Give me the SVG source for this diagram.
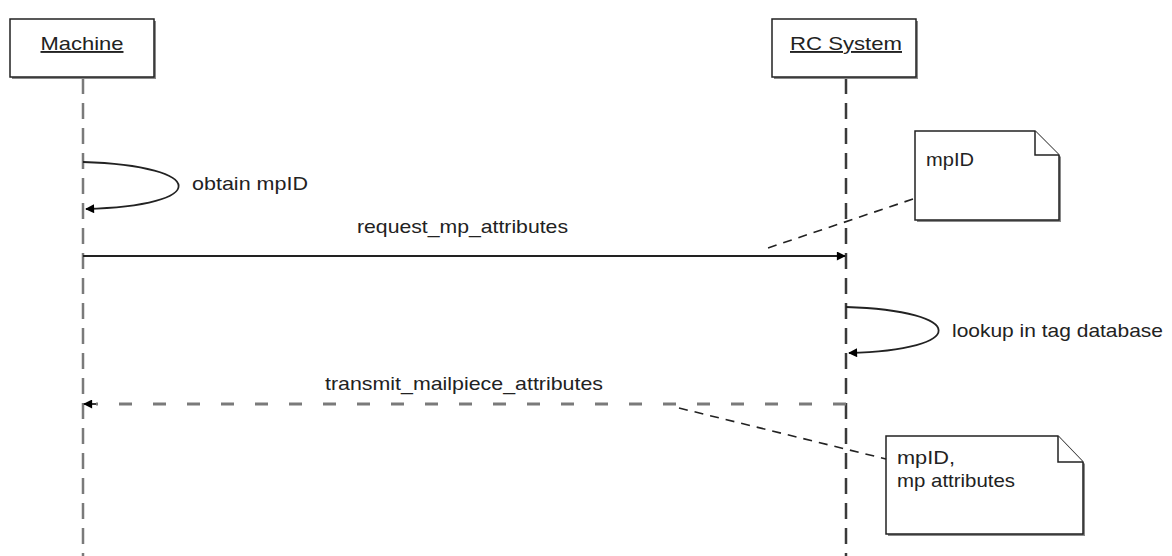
<svg xmlns="http://www.w3.org/2000/svg" width="1172" height="556" viewBox="0 0 1172 556">
  <style>
    .lbl { font-family: "Liberation Sans", Arial, sans-serif; font-size: 19px; fill: #222; }
    .box { fill: #fff; stroke: #222; stroke-width: 1.5; }
    .shadow { fill: #8a8a8a; }
    .life { fill: none; stroke-width: 2.5; stroke-dasharray: 16 9; }
    .msg { fill: none; stroke: #222; stroke-width: 1.8; }
    .ret { fill: none; stroke: #7a7a7a; stroke-width: 3; stroke-dasharray: 13 21; }
    .anchor { fill: none; stroke: #222; stroke-width: 1.6; stroke-dasharray: 9 7; }
    .note { fill: #fff; stroke: #222; stroke-width: 1.5; }
  </style>
  <defs>
    <marker id="head" viewBox="0 0 10 10" refX="9" refY="5" markerWidth="10" markerHeight="9" markerUnits="userSpaceOnUse" orient="auto">
      <path d="M0,0 L10,5 L0,10 z" fill="#000"/>
    </marker>
  </defs>
  <rect width="1172" height="556" fill="#fff"/>

  <!-- lifelines -->
  <g id="lifelines">
    <line class="life" x1="83" y1="78" x2="83" y2="556" stroke="#7a7a7a"/>
    <line class="life" x1="846" y1="78" x2="846" y2="556" stroke="#3a3a3a"/>
  </g>

  <g id="machine">
    <rect class="shadow" x="12" y="21" width="144" height="58"/>
    <rect class="box" x="10" y="19" width="144" height="58"/>
    <text class="lbl" x="82" y="50" text-anchor="middle" text-decoration="underline" textLength="83" lengthAdjust="spacingAndGlyphs">Machine</text>
  </g>

  <g id="rc-system">
    <rect class="shadow" x="774" y="21" width="144" height="58"/>
    <rect class="box" x="772" y="19" width="144" height="58"/>
    <text class="lbl" x="846" y="50" text-anchor="middle" text-decoration="underline" textLength="112" lengthAdjust="spacingAndGlyphs">RC System</text>
  </g>

  <g id="note-mpid">
    <path class="shadow" d="M917,133 H1037 L1061,157 V222 H917 z"/>
    <path class="note" d="M915,131 H1035 L1059,155 V220 H915 z"/>
    <path class="note" d="M1035,131 V155 H1059"/>
    <text class="lbl" x="926" y="166" textLength="48" lengthAdjust="spacingAndGlyphs">mpID</text>
  </g>

  <g id="note-attributes">
    <path class="shadow" d="M888,438 H1060 L1085,464 V536 H888 z"/>
    <path class="note" d="M886,436 H1058 L1083,462 V534 H886 z"/>
    <path class="note" d="M1058,436 V462 H1083"/>
    <text class="lbl" x="897" y="464" textLength="58" lengthAdjust="spacingAndGlyphs">mpID,</text>
    <text class="lbl" x="897" y="487" textLength="118" lengthAdjust="spacingAndGlyphs">mp attributes</text>
  </g>

  <!-- messages and note anchors -->
  <g id="connectors">
    <path class="msg" d="M83,162 C210,166 210,206 86,209" marker-end="url(#head)"/>
    <text class="lbl" x="192" y="190" textLength="116" lengthAdjust="spacingAndGlyphs">obtain mpID</text>

    <line class="msg" x1="83" y1="256" x2="845" y2="256" marker-end="url(#head)"/>
    <text class="lbl" x="357" y="233" textLength="211" lengthAdjust="spacingAndGlyphs">request_mp_attributes</text>

    <path class="msg" d="M846,307 C969,311 969,350 849,353" marker-end="url(#head)"/>
    <text class="lbl" x="952" y="337" textLength="211" lengthAdjust="spacingAndGlyphs">lookup in tag database</text>

    <line class="ret" x1="846" y1="404" x2="96" y2="404"/>
    <line class="msg" x1="96" y1="404" x2="84" y2="404" marker-end="url(#head)"/>
    <text class="lbl" x="325" y="390" textLength="278" lengthAdjust="spacingAndGlyphs">transmit_mailpiece_attributes</text>

    <line class="anchor" x1="913" y1="199" x2="768" y2="248"/>
    <line class="anchor" x1="679" y1="408" x2="886" y2="459"/>
  </g>
</svg>
